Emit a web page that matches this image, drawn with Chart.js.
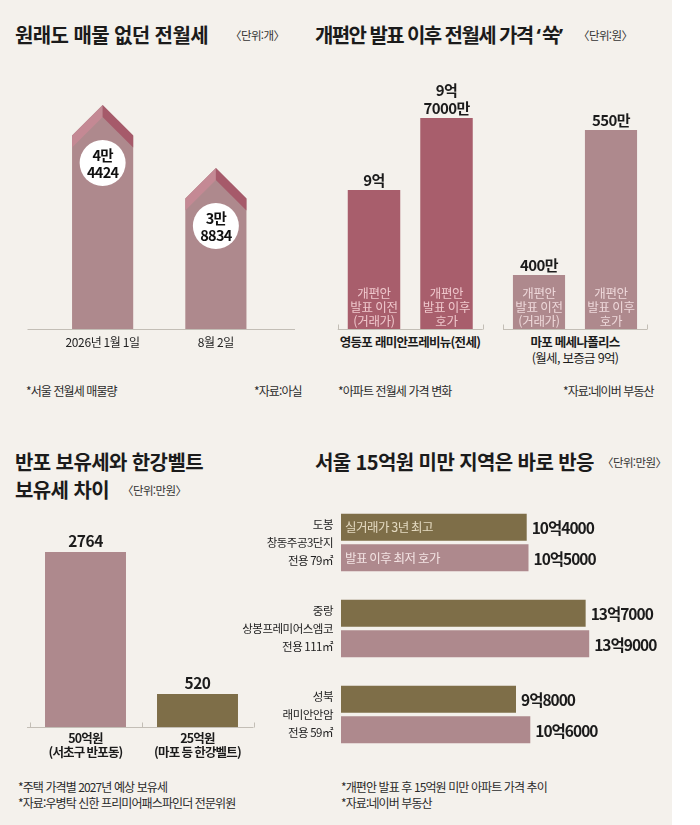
<!DOCTYPE html>
<html lang="ko">
<head>
<meta charset="utf-8">
<script src="https://cdn.jsdelivr.net/npm/chart.js@4.4.1/dist/chart.umd.min.js"></script>
<style>
  html, body { margin: 0; padding: 0; background: #fff; }
  #board { position: relative; width: 700px; height: 825px; background: #fff; overflow: hidden;
    font-family: 'Noto Sans CJK KR', 'Noto Sans', sans-serif; color: #1b1b1b; }
  #paper { position: absolute; left: 0; top: 0; width: 672px; height: 825px; background: #f4f1ec; }
  .t { position: absolute; white-space: nowrap; }
  .title { font-size: 20px; font-weight: 700; letter-spacing: -0.6px; line-height: 24px; }
  .q { font-family: 'Noto Sans', sans-serif; letter-spacing: 1px; }
  .unit { font-size: 11.5px; letter-spacing: -0.6px; line-height: 14px; color: #333; }
  .note { font-size: 12px; letter-spacing: -0.9px; line-height: 16px; color: #2a2a2a; }
  .grp { font-size: 12.5px; font-weight: 700; letter-spacing: -0.7px; line-height: 16px; text-align: center; }
  .grp span { font-weight: 400; }
  canvas { position: absolute; }
</style>
</head>
<body>
<div id="board">
  <div id="paper"></div>

  <div class="t title" style="left:15px; top:23px;">원래도 매물 없던 전월세</div>
  <div class="t unit" style="left:230px; top:28px;">〈단위:개〉</div>
  <div class="t title" style="left:315px; top:23px; letter-spacing:-1.6px;">개편안 발표 이후 전월세 가격 <span class="q">‘</span>쑥<span class="q">’</span></div>
  <div class="t unit" style="left:578px; top:28px;">〈단위:원〉</div>

  <div class="t note" style="left:26px; top:383px;">*서울 전월세 매물량</div>
  <div class="t note" style="left:254px; top:383px;">*자료:아실</div>
  <div class="t note" style="left:338px; top:383px;">*아파트 전월세 가격 변화</div>
  <div class="t note" style="left:563px; top:383px;">*자료:네이버 부동산</div>

  <div class="t grp" id="grp1" style="left:330px; width:160px; top:334px;"></div>
  <div class="t grp" id="grp2" style="left:495px; width:160px; top:334px;"></div>

  <div class="t title" style="left:15px; top:450px;">반포 보유세와 한강벨트</div>
  <div class="t title" style="left:15px; top:478px;">보유세 차이</div>
  <div class="t unit" style="left:122px; top:483px;">〈단위:만원〉</div>
  <div class="t title" style="left:315px; top:450px;">서울 15억원 미만 지역은 바로 반응</div>
  <div class="t unit" style="left:602px; top:455px;">〈단위:만원〉</div>

  <div class="t note" style="left:18px; top:779px;">*주택 가격별 2027년 예상 보유세</div>
  <div class="t note" style="left:18px; top:795px;">*자료:우병탁 신한 프리미어패스파인더 전문위원</div>
  <div class="t note" style="left:341px; top:779px;">*개편안 발표 후 15억원 미만 아파트 가격 추이</div>
  <div class="t note" style="left:341px; top:795px;">*자료:네이버 부동산</div>

  <canvas id="stock-chart" width="330" height="300" style="left:0; top:60px;"></canvas>
  <canvas id="yeong-chart" width="160" height="280" style="left:330px; top:60px;"></canvas>
  <canvas id="mapo-chart" width="160" height="280" style="left:495px; top:60px;"></canvas>
  <canvas id="tax-chart" width="300" height="250" style="left:0; top:520px;"></canvas>
  <canvas id="apt-chart" width="472" height="300" style="left:200px; top:480px;"></canvas>
</div>

<script>
// 서울 전월세 매물량 (개)
const stockDates = ["2026년 1월 1일", "8월 2일"];
const stockCounts = [44424, 38834];

// 개편안 전후 전월세 가격 (만원)
const rentBarLabels = [["개편안", "발표 이전", "(거래가)"], ["개편안", "발표 이후", "호가"]];
const rentGroups = ["영등포 래미안프레비뉴(전세)", "마포 메세나폴리스"];
const rentGroupNotes = ["", "(월세, 보증금 9억)"];
const yeongdeungpoJeonse = [90000, 97000];
const mapoWolse = [400, 550];

// 2027년 예상 보유세 (만원)
const taxCategories = [["50억원", "(서초구 반포동)"], ["25억원", "(마포 등 한강벨트)"]];
const taxValues = [2764, 520];

// 15억원 미만 아파트 가격 (만원)
const aptNames = [
  ["도봉", "창동주공3단지", "전용 79㎡"],
  ["중랑", "상봉프레미어스엠코", "전용 111㎡"],
  ["성북", "래미안안암", "전용 59㎡"]
];
const aptSeries = ["실거래가 3년 최고", "발표 이후 최저 호가"];
const highestDeal = [104000, 137000, 98000];
const lowestAsk = [105000, 139000, 106000];

const FONT = "'Noto Sans CJK KR', 'Noto Sans', sans-serif";
const INK = "#1b1b1b";
const LINE = "#c3beb6";
const MAUVE = "#ae898d";
const ROSE = "#a85e6c";
const OLIVE = "#7e6e48";

Chart.defaults.font.family = FONT;
Chart.defaults.color = INK;
Chart.defaults.animation = false;
Chart.defaults.plugins.legend.display = false;
Chart.defaults.plugins.tooltip.enabled = false;

document.getElementById("grp1").innerHTML = rentGroups[0];
document.getElementById("grp2").innerHTML = rentGroups[1] + "<br><span>" + rentGroupNotes[1] + "</span>";

function countLabel(v) {
  return [Math.floor(v / 10000) + "만", String(v % 10000)];
}
function manLabel(v) {
  const eok = Math.floor(v / 10000), man = v % 10000;
  if (!eok) return [man + "만"];
  return man ? [eok + "억", man + "만"] : [eok + "억"];
}
function eokLabel(v) {
  const eok = Math.floor(v / 10000), man = v % 10000;
  return eok + "억" + (man ? man : "");
}

// tighter text, like the condensed newspaper font
const tightText = {
  id: "tightText",
  beforeDraw(chart, args, opts) {
    chart.ctx.letterSpacing = (opts.spacing || 0) + "px";
  }
};

// axis line with little upward ticks at category edges
const baseLine = {
  id: "baseLine",
  beforeDatasetsDraw(chart, args, opts) {
    if (!opts.show) return;
    const { ctx, chartArea } = chart;
    const x = chart.scales.x;
    const y = chartArea.bottom + 0.5;
    const l = chartArea.left - (opts.extLeft || 0);
    const r = chartArea.right + (opts.extRight || 0);
    ctx.save();
    ctx.strokeStyle = LINE;
    ctx.lineWidth = 1;
    ctx.beginPath();
    ctx.moveTo(l, y);
    ctx.lineTo(r, y);
    if (opts.ticks) {
      const n = x.ticks.length;
      const w = (x.right - x.left) / n;
      for (let i = 0; i <= n; i++) {
        const px = Math.round(x.left + i * w) + 0.5;
        ctx.moveTo(px, y);
        ctx.lineTo(px, y - 5);
      }
    }
    ctx.stroke();
    ctx.restore();
  }
};

// ---------- 1. 매물량: house-shaped bars ----------
new Chart(document.getElementById("stock-chart"), {
  type: "bar",
  data: {
    labels: stockDates,
    datasets: [{ data: stockCounts, backgroundColor: "rgba(0,0,0,0)",
      barPercentage: 0.54, categoryPercentage: 1 }]
  },
  options: {
    responsive: false,
    layout: { padding: { left: 46, right: 57.5, top: 15 } },
    scales: {
      x: { grid: { display: false, drawTicks: false }, border: { display: false },
        ticks: { padding: 6, font: { size: 12 }, color: "#222" },
        afterFit(s) { s.height = 31; } },
      y: { display: false, min: 24550, max: 47090 }
    },
    plugins: { baseLine: { show: true, extLeft: 18.5, extRight: 22.5 }, tightText: { spacing: -0.4 } }
  },
  plugins: [tightText, baseLine, {
    id: "houses",
    afterDatasetsDraw(chart) {
      const ctx = chart.ctx;
      const base = chart.chartArea.bottom;
      chart.getDatasetMeta(0).data.forEach((bar, i) => {
        const { x, y, width } = bar.getProps(["x", "y", "width"], true);
        const hw = width / 2, band = 12;
        ctx.save();
        ctx.fillStyle = MAUVE;
        ctx.beginPath();
        ctx.moveTo(x - hw, base);
        ctx.lineTo(x - hw, y + hw);
        ctx.lineTo(x, y);
        ctx.lineTo(x + hw, y + hw);
        ctx.lineTo(x + hw, base);
        ctx.closePath();
        ctx.fill();
        ctx.fillStyle = "#c48994";
        ctx.beginPath();
        ctx.moveTo(x - hw, y + hw);
        ctx.lineTo(x, y);
        ctx.lineTo(x, y + band);
        ctx.lineTo(x - hw, y + hw + band);
        ctx.closePath();
        ctx.fill();
        ctx.fillStyle = "#a65a6a";
        ctx.beginPath();
        ctx.moveTo(x + hw, y + hw);
        ctx.lineTo(x, y);
        ctx.lineTo(x, y + band);
        ctx.lineTo(x + hw, y + hw + band);
        ctx.closePath();
        ctx.fill();
        const cy = y + 58;
        ctx.fillStyle = "#fff";
        ctx.beginPath();
        ctx.arc(x, cy, 23, 0, Math.PI * 2);
        ctx.fill();
        ctx.fillStyle = "#111";
        ctx.font = "700 14.5px " + FONT;
        ctx.letterSpacing = "-0.7px";
        ctx.textAlign = "center";
        ctx.textBaseline = "middle";
        const lines = countLabel(stockCounts[i]);
        ctx.fillText(lines[0], x, cy - 8);
        ctx.fillText(lines[1], x, cy + 9);
        ctx.restore();
      });
    }
  }]
});

// ---------- 2. 전월세 가격: two groups, each on its own scale ----------
function rentLabels(values, textColor) {
  return {
    id: "rentLabels",
    afterDatasetsDraw(chart) {
      const ctx = chart.ctx;
      const base = chart.chartArea.bottom;
      ctx.save();
      ctx.textAlign = "center";
      ctx.textBaseline = "middle";
      chart.getDatasetMeta(0).data.forEach((bar, i) => {
        const { x, y } = bar.getProps(["x", "y"], true);
        ctx.letterSpacing = "-0.6px";
        ctx.font = "700 15px " + FONT;
        ctx.fillStyle = INK;
        const top = manLabel(values[i]);
        top.forEach((s, k) => ctx.fillText(s, x, y - 10 - (top.length - 1 - k) * 18));
        ctx.letterSpacing = "-0.3px";
        ctx.font = "400 12.5px " + FONT;
        ctx.fillStyle = textColor;
        const inner = rentBarLabels[i];
        inner.forEach((s, k) => ctx.fillText(s, x, base - 8 - (inner.length - 1 - k) * 14));
      });
      ctx.restore();
    }
  };
}

function rentChart(id, values, color, textColor, min, max, pad) {
  new Chart(document.getElementById(id), {
    type: "bar",
    data: {
      labels: rentBarLabels.map(l => l.join(" ")),
      datasets: [{ data: values, backgroundColor: color, barPercentage: 0.724, categoryPercentage: 1 }]
    },
    options: {
      responsive: false,
      layout: { padding: { left: pad[0], right: pad[1], top: 20, bottom: 11 } },
      scales: {
        x: { display: false },
        y: { display: false, min: min, max: max }
      },
      plugins: { baseLine: { show: true, ticks: true } }
    },
    plugins: [baseLine, rentLabels(values, textColor)]
  });
}
rentChart("yeong-chart", yeongdeungpoJeonse, ROSE, "#efc7cc", 76486, 100694, [7.75, 7.25]);
rentChart("mapo-chart", mapoWolse, MAUVE, "#eed8da", 344.1, 601.7, [8, 8]);

// ---------- 3. 보유세 ----------
new Chart(document.getElementById("tax-chart"), {
  type: "bar",
  data: {
    labels: taxCategories,
    datasets: [{ data: taxValues, backgroundColor: [MAUVE, OLIVE], barPercentage: 0.723, categoryPercentage: 1 }]
  },
  options: {
    responsive: false,
    layout: { padding: { left: 29.5, right: 46.5, top: 20 } },
    scales: {
      x: { grid: { display: false, drawTicks: false }, border: { display: false },
        ticks: { padding: 4, font: { size: 12.5, weight: "700", lineHeight: 1.12 }, color: INK },
        afterFit(s) { s.height = 43; } },
      y: { display: false, min: 0, max: 2954 }
    },
    plugins: { baseLine: { show: true, ticks: true, extLeft: 2.5 }, tightText: { spacing: -0.8 } }
  },
  plugins: [tightText, baseLine, {
    id: "taxLabels",
    afterDatasetsDraw(chart) {
      const ctx = chart.ctx;
      ctx.save();
      ctx.font = "700 15.5px " + FONT;
      ctx.letterSpacing = "-0.5px";
      ctx.fillStyle = INK;
      ctx.textAlign = "center";
      ctx.textBaseline = "middle";
      chart.getDatasetMeta(0).data.forEach((bar, i) => {
        ctx.fillText(String(taxValues[i]), bar.x, bar.y - 11);
      });
      ctx.restore();
    }
  }]
});

// ---------- 4. 15억원 미만 아파트 ----------
new Chart(document.getElementById("apt-chart"), {
  type: "bar",
  data: {
    labels: aptNames,
    datasets: [
      { label: aptSeries[0], data: highestDeal, backgroundColor: OLIVE },
      { label: aptSeries[1], data: lowestAsk, backgroundColor: MAUVE }
    ]
  },
  options: {
    indexAxis: "y",
    responsive: false,
    datasets: { bar: { categoryPercentage: 0.71, barPercentage: 0.885 } },
    layout: { padding: { left: 0, right: 31, top: 19.5, bottom: 22.5 } },
    scales: {
      x: { display: false, min: 0, max: 168000 },
      y: { grid: { display: false, drawTicks: false }, border: { display: false },
        ticks: { padding: 8, font: { size: 11.5, lineHeight: 1.56 }, color: "#222" },
        afterFit(s) { s.width = 141; s.paddingTop = 0; s.paddingBottom = 0; } }
    },
    plugins: { tightText: { spacing: -0.5 } }
  },
  plugins: [tightText, {
    id: "aptLabels",
    afterDatasetsDraw(chart) {
      const ctx = chart.ctx;
      const inner = ["#e4dac1", "#f3e3e3"];
      ctx.save();
      ctx.textBaseline = "middle";
      chart.data.datasets.forEach((ds, d) => {
        chart.getDatasetMeta(d).data.forEach((bar, i) => {
          const { x, y, base } = bar.getProps(["x", "y", "base"], true);
          ctx.textAlign = "left";
          ctx.font = "700 15.5px " + FONT;
          ctx.letterSpacing = "-1px";
          ctx.fillStyle = INK;
          ctx.fillText(eokLabel(ds.data[i]), x + 5, y + 1);
          if (i === 0) {
            ctx.font = "400 12.5px " + FONT;
            ctx.letterSpacing = "-0.5px";
            ctx.fillStyle = inner[d];
            ctx.fillText(ds.label, base + 4, y);
          }
        });
      });
      ctx.restore();
    }
  }]
});
</script>
</body>
</html>
